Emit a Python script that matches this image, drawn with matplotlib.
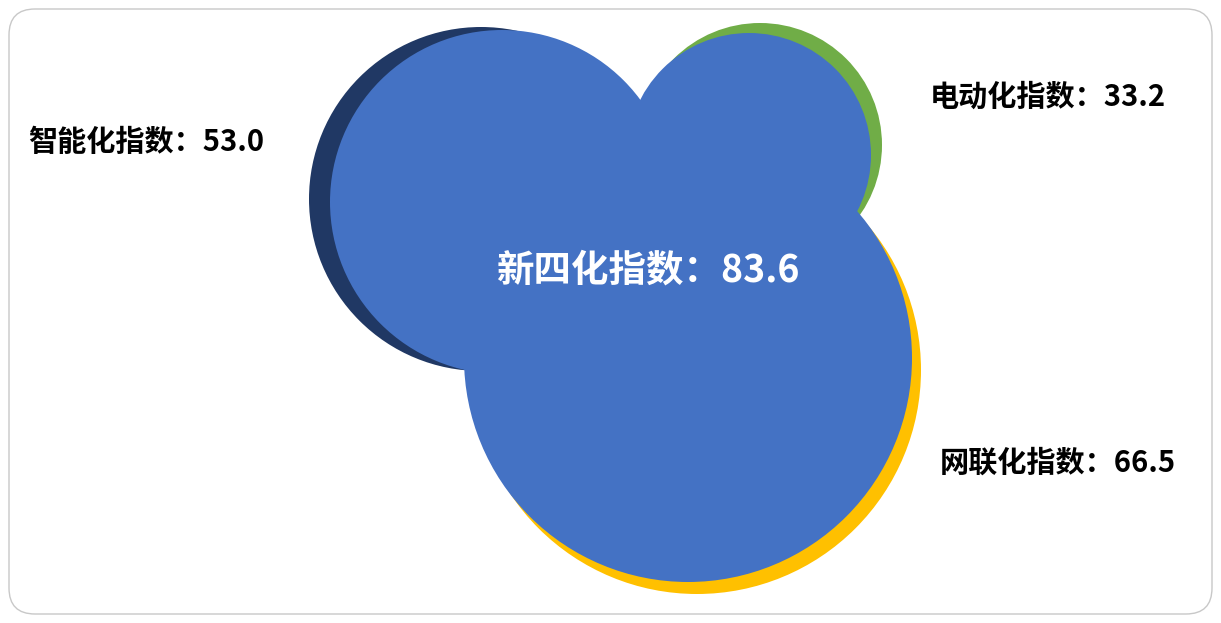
import matplotlib
matplotlib.use('Agg')
import matplotlib.pyplot as plt
from matplotlib.patches import Circle, FancyBboxPatch

plt.rcParams['font.family'] = ['Noto Sans CJK SC', 'DejaVu Sans']

# data
names = ['智能化指数', '电动化指数', '网联化指数']
values = [53.0, 33.2, 66.5]
total_name = '新四化指数'
total_value = 83.6

# layout (pixel coordinates, y down)
shadow_colors = ['#203864', '#70AD47', '#FFC000']
shadow_centers = [(481, 199), (760, 145), (697, 370)]
blue_centers = [(502, 202), (749, 155), (688, 358)]
radii = [172, 122, 224]
label_pos = [(28, 142), (930, 97), (940, 463)]
blue = '#4472C4'

W, H = 1221, 623
fig = plt.figure(figsize=(W / 100, H / 100), dpi=100)
ax = fig.add_axes([0, 0, 1, 1])
ax.set_xlim(0, W)
ax.set_ylim(H, 0)
ax.set_aspect('equal')
ax.axis('off')

# rounded frame
frame = FancyBboxPatch((9, 9), W - 18, H - 18, boxstyle='round,pad=0,rounding_size=26',
                       fc='white', ec='#C8C8C8', lw=1.0, zorder=0)
ax.add_patch(frame)

# coloured circles behind
for c, r, col in zip(shadow_centers, radii, shadow_colors):
    ax.add_patch(Circle(c, r, fc=col, ec='none', zorder=1))

# blue union on top
for c, r in zip(blue_centers, radii):
    ax.add_patch(Circle(c, r, fc=blue, ec='none', zorder=2))

for (x, y), n, v in zip(label_pos, names, values):
    ax.text(x, y, f'{n}：{v:.1f}', ha='left', va='center', fontsize=21,
            fontweight='bold', color='black', zorder=3)

ax.text(648, 270, f'{total_name}：{total_value:.1f}', ha='center', va='center',
        fontsize=27, fontweight='bold', color='white', zorder=3)

fig.savefig('out.png', dpi=100)
